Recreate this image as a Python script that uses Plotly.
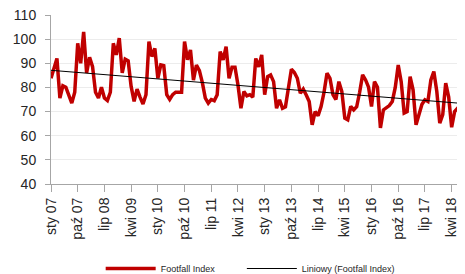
import numpy as np
import plotly.graph_objects as go

months_pl = ["sty", "lut", "mar", "kwi", "maj", "cze", "lip", "sie", "wrz", "paź", "lis", "gru"]
years = list(range(2007, 2019))

footfall = [
    # 2007
    83.8, 88.0, 92.0, 75.6, 80.7, 80.1, 77.0, 73.5, 78.0, 98.3, 90.0, 103.0,
    # 2008
    86.0, 92.5, 88.6, 78.0, 75.6, 80.1, 75.6, 74.6, 78.0, 98.3, 93.5, 100.4,
    # 2009
    86.0, 91.7, 91.0, 80.4, 74.2, 79.3, 76.0, 73.1, 77.0, 99.0, 92.8, 96.2,
    # 2010
    83.8, 89.3, 89.0, 77.0, 75.0, 77.0, 78.0, 78.0, 78.0, 99.0, 91.5, 95.5,
    # 2011
    83.0, 89.3, 87.0, 82.0, 75.6, 73.5, 75.0, 74.5, 77.0, 94.8, 91.4, 96.9,
    # 2012
    83.8, 88.4, 88.4, 81.0, 71.4, 78.3, 76.5, 77.0, 76.0, 92.0, 88.5, 93.5,
    # 2013
    77.0, 84.5, 85.2, 82.4, 71.4, 74.9, 71.4, 72.0, 79.0, 87.5, 86.2, 83.8,
    # 2014
    77.6, 79.3, 76.9, 74.2, 64.5, 70.0, 68.3, 72.1, 78.0, 85.9, 83.8, 77.0,
    # 2015
    75.0, 82.4, 78.3, 67.3, 66.6, 72.1, 70.7, 72.0, 78.0, 85.2, 83.1, 80.1,
    # 2016
    72.1, 82.4, 80.1, 63.2, 70.7, 71.4, 72.5, 74.2, 80.0, 89.3, 82.4, 69.4,
    # 2017
    70.0, 84.5, 79.0, 64.5, 68.7, 73.0, 74.9, 74.2, 83.1, 86.6, 78.3, 65.2,
    # 2018
    68.7, 81.8, 76.0, 63.5, 70.0, 71.4, 70.0, 80.4,
]

categories = [f"{m} {str(y)[2:]}" for y in years for m in months_pl][:len(footfall)]
tick_labels = categories[::9]

# linear trendline (least squares, like Excel "Liniowy")
idx = np.arange(len(footfall))
slope, intercept = np.polyfit(idx, footfall, 1)
trend = slope * idx + intercept

fig = go.Figure()
fig.add_trace(go.Scatter(
    x=categories, y=footfall, mode="lines", name="Footfall Index",
    line=dict(color="#C00000", width=3.5), legend="legend",
))
fig.add_trace(go.Scatter(
    x=categories, y=trend, mode="lines", name="Liniowy (Footfall Index)",
    line=dict(color="#000000", width=1), legend="legend2",
))

# page body has an 8px default margin, so the figure is sized/offset to compensate
font_main = "Liberation Sans, Arial, sans-serif"
legend_common = dict(
    orientation="h", xanchor="left", y=-0.50, yanchor="middle",
    font=dict(size=9, color="#262626"), itemwidth=50,
    bgcolor="rgba(0,0,0,0)",
)
fig.update_layout(
    width=457, height=266,
    margin=dict(l=43, r=0, t=7, b=90, autoexpand=False),
    paper_bgcolor="white", plot_bgcolor="white",
    font=dict(family=font_main, size=14, color="#262626"),
    showlegend=True,
    legend=dict(x=0.12, **legend_common),
    legend2=dict(x=0.461, **legend_common),
)
fig.update_xaxes(
    type="category", categoryorder="array", categoryarray=categories,
    range=[0, len(footfall) - 0.5], automargin=False,
    tickmode="array", tickvals=tick_labels, ticktext=tick_labels,
    tickangle=-90, ticks="outside", ticklen=7, tickcolor="#a6a6a6",
    showline=True, linecolor="#a6a6a6", linewidth=1, ticklabeloverflow="allow",
    showgrid=False, tickfont=dict(size=14), zeroline=False,
)
fig.update_yaxes(
    range=[40, 110], dtick=10, tick0=40, automargin=False,
    ticks="outside", ticklen=5, tickcolor="#a6a6a6", ticklabelstandoff=6,
    showline=True, linecolor="#a6a6a6", linewidth=1, ticklabeloverflow="allow",
    showgrid=True, gridcolor="#ececec", gridwidth=1,
    tickfont=dict(size=14), zeroline=False,
)

fig.write_html("out.html")
